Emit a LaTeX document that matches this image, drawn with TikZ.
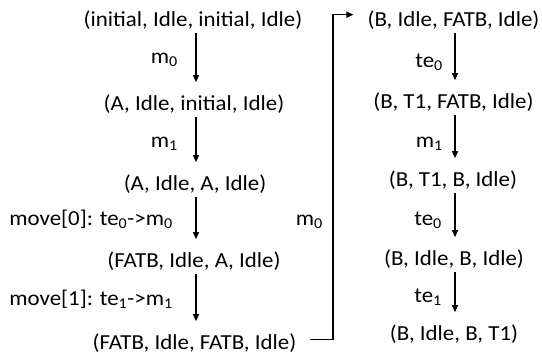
\documentclass[tikz,border=0pt]{standalone}
\usepackage{fontspec}
\usepackage{graphicx}
\setmainfont{Carlito}
\usetikzlibrary{arrows.meta,calc}
\newcommand{\stx}[1]{\scalebox{1.07}[1]{#1}}
\begin{document}
\begin{tikzpicture}[x=1bp,y=-1bp,
  st/.style={inner sep=0pt,anchor=base,font=\fontsize{21.5}{25}\selectfont},
  lb/.style={inner sep=0pt,anchor=base east,font=\fontsize{21.5}{25}\selectfont},
  arr/.style={-{Triangle[length=7bp,width=6bp]},line width=1.1bp,shorten <=4bp,shorten >=12bp},
  conn/.style={-{Triangle[length=7bp,width=6bp]},line width=1.1bp}]
\useasboundingbox (0,0) rectangle (542,358);
% left column
\node[st] (n1) at (193,26) {\stx{(initial, Idle, initial, Idle)}};
\node[st] (n2) at (194,110) {\stx{(A, Idle, initial, Idle)}};
\node[st] (n3) at (195,190) {\stx{(A, Idle, A, Idle)}};
\node[st] (n4) at (194,267) {\stx{(FATB, Idle, A, Idle)}};
\node[st] (n5) at (194.5,349) {\stx{(FATB, Idle, FATB, Idle)}};
% right column
\node[st] (r1) at (453.5,26) {\stx{(B, Idle, FATB, Idle)}};
\node[st] (r2) at (453.5,108) {\stx{(B, T1, FATB, Idle)}};
\node[st] (r3) at (453,186) {\stx{(B, T1, B, Idle)}};
\node[st] (r4) at (454,265) {\stx{(B, Idle, B, Idle)}};
\node[st] (r5) at (454,340) {\stx{(B, Idle, B, T1)}};
% left labels
\node[lb] (l1) at (178,63) {\stx{m\textsubscript{0}}};
\node[lb] (l2) at (178,147) {\stx{m\textsubscript{1}}};
\node[lb] (l3) at (173,225) {\stx{move[0]: te\textsubscript{0}->m\textsubscript{0}}};
\node[lb] (l4) at (173,305) {\stx{move[1]: te\textsubscript{1}->m\textsubscript{1}}};
% right labels
\node[lb] (q1) at (443,67) {\stx{te\textsubscript{0}}};
\node[lb] (q2) at (443,147) {\stx{m\textsubscript{1}}};
\node[lb] (q3) at (442,225) {\stx{te\textsubscript{0}}};
\node[lb] (q4) at (442,302) {\stx{te\textsubscript{1}}};
\node[lb] (c0) at (323,225) {\stx{m\textsubscript{0}}};
% left arrows
\coordinate (ax) at (196,0);
\draw[arr] (n1.south -| ax) -- (n2.north -| ax);
\draw[arr] (n2.south -| ax) -- (n3.north -| ax);
\draw[arr] (n3.south -| ax) -- (n4.north -| ax);
\draw[arr] (n4.south -| ax) -- (n5.north -| ax);
% right arrows
\coordinate (bx) at (455,0);
\draw[arr] (r1.south -| bx) -- (r2.north -| bx);
\draw[arr] (r2.south -| bx) -- (r3.north -| bx);
\draw[arr] (r3.south -| bx) -- (r4.north -| bx);
\draw[arr] (r4.south -| bx) -- (r5.north -| bx);
% long connector
\coordinate (cx) at (333,0);
\coordinate (s) at ([xshift=13bp,yshift=3bp]n5.east);
\coordinate (e) at ([xshift=-14bp,yshift=5bp]r1.west);
\draw[conn] (s) -- (s -| cx) -- (e -| cx) -- (e);
\end{tikzpicture}
\end{document}
